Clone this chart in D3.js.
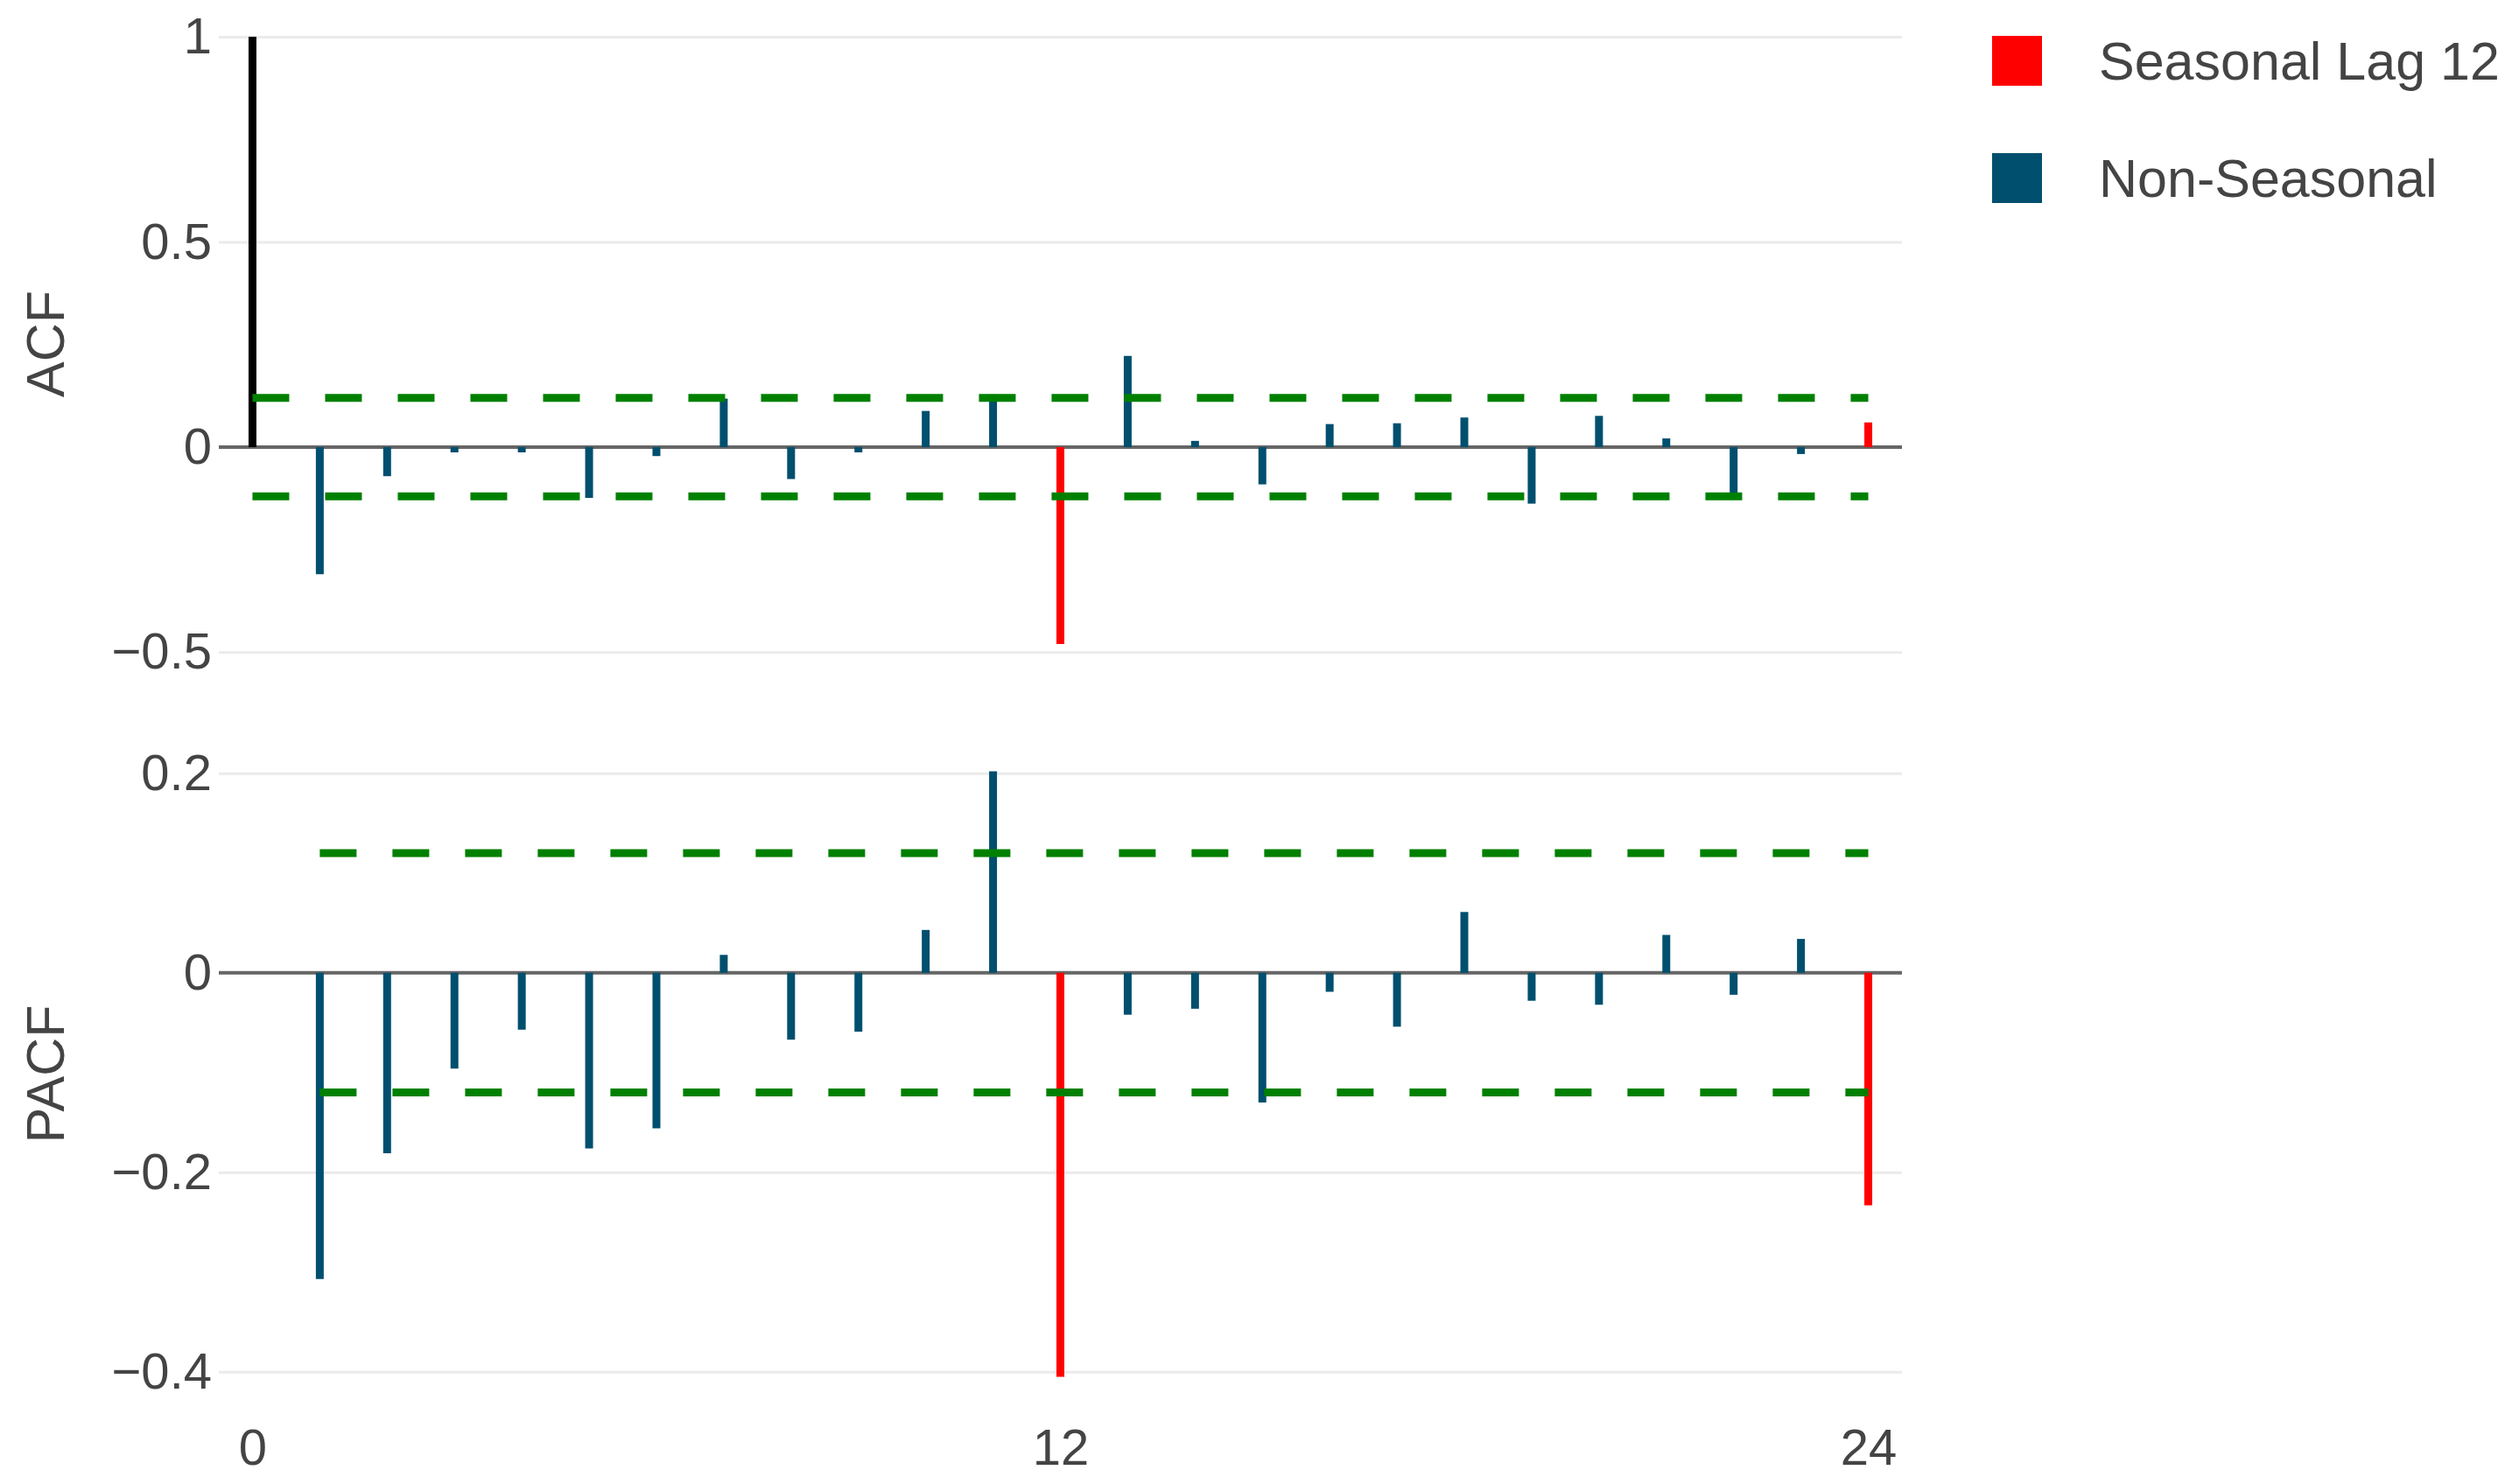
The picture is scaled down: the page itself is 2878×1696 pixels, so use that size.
<!DOCTYPE html>
<html>
<head>
<meta charset="utf-8">
<script src="https://cdn.jsdelivr.net/npm/d3@7"></script>
<style>
  body { margin: 0; background: #fff; }
  svg { font-family: 'Liberation Sans', Arial, sans-serif; }
</style>
</head>
<body>
<svg id="chart"></svg>
<script>
// data
const lags = [0, 1, 2, 3, 4, 5, 6, 7, 8, 9, 10, 11, 12, 13, 14, 15, 16, 17, 18, 19, 20, 21, 22, 23, 24];
const acfValues = [1, -0.310, -0.071, -0.013, -0.013, -0.124, -0.022, 0.118, -0.078, -0.013, 0.088, 0.128,
  -0.480, 0.222, 0.015, -0.091, 0.056, 0.058, 0.072, -0.138, 0.076, 0.021, -0.114, -0.017, 0.060];
const pacfValues = [null, -0.307, -0.181, -0.096, -0.057, -0.176, -0.156, 0.018, -0.067, -0.059, 0.043, 0.202,
  -0.405, -0.042, -0.036, -0.130, -0.019, -0.054, 0.061, -0.028, -0.032, 0.038, -0.022, 0.034, -0.233];
const seasonalLags = [12, 24];
const confBound = 0.12;
const xTicks = [0, 12, 24];
const acfTicks = [-0.5, 0, 0.5, 1];
const pacfTicks = [-0.4, -0.2, 0, 0.2];
const legendLabels = ['Seasonal Lag 12', 'Non-Seasonal'];

const width = 2878;
const height = 1696;
const plotLeft = 250;
const plotRight = 2173;
const acfPanel = {top: 36, bottom: 750};
const pacfPanel = {top: 877, bottom: 1578};

const seasonalColor = '#ff0000';
const baseColor = '#004f6e';
const textColor = '#444';

const svg = d3.select('#chart')
  .attr('width', width)
  .attr('height', height);

const xScale = d3.scaleLinear()
  .domain([-0.5, 24.5])
  .range([plotLeft, plotRight]);

const fmt = d => d < 0 ? '\u2212' + Math.abs(d) : String(d);

function drawPanel(panel, values, ticks, domain, title, firstColor) {
  const yScale = d3.scaleLinear()
    .domain(domain)
    .range([panel.bottom, panel.top]);

  // grid + tick labels
  const yAxis = d3.axisLeft(yScale)
    .tickValues(ticks)
    .tickFormat(fmt)
    .tickSize(-(plotRight - plotLeft))
    .tickPadding(8);

  const gy = svg.append('g')
    .attr('transform', `translate(${plotLeft}, 0)`)
    .call(yAxis);
  gy.select('.domain').remove();
  gy.selectAll('line').attr('stroke', '#ebebeb').attr('stroke-width', 3);
  gy.selectAll('text')
    .attr('fill', textColor)
    .style('font-size', '58px');

  // zero line
  svg.append('line')
    .attr('x1', plotLeft).attr('x2', plotRight)
    .attr('y1', yScale(0)).attr('y2', yScale(0))
    .attr('stroke', '#666')
    .attr('stroke-width', 4);

  const pts = lags.map((lag, i) => ({lag: lag, value: values[i]}))
    .filter(d => d.value !== null);

  svg.append('g')
    .selectAll('line')
    .data(pts)
    .enter()
    .append('line')
    .attr('x1', d => xScale(d.lag))
    .attr('x2', d => xScale(d.lag))
    .attr('y1', yScale(0))
    .attr('y2', d => yScale(d.value))
    .attr('stroke-width', 9)
    .attr('stroke', d => {
      if (d.lag == 0) return firstColor;
      if (seasonalLags.includes(d.lag)) return seasonalColor;
      return baseColor;
    });

  // confidence bounds
  const first = pts[0].lag;
  const last = pts[pts.length - 1].lag;
  [confBound, -confBound].forEach(b => {
    svg.append('line')
      .attr('x1', xScale(first)).attr('x2', xScale(last))
      .attr('y1', yScale(b)).attr('y2', yScale(b))
      .attr('stroke', '#008000')
      .attr('stroke-width', 9)
      .attr('stroke-dasharray', '42,41');
  });

  // axis title
  const cy = (panel.top + panel.bottom) / 2;
  svg.append('text')
    .attr('transform', `translate(51, ${cy}) rotate(-90)`)
    .attr('text-anchor', 'middle')
    .attr('dy', '0.36em')
    .attr('fill', textColor)
    .style('font-size', '61px')
    .text(title);

  return yScale;
}

drawPanel(acfPanel, acfValues, acfTicks, [-0.51, 1.013], 'ACF', '#000');
drawPanel(pacfPanel, pacfValues, pacfTicks, [-0.409, 0.206], 'PACF', baseColor);

// x axis under the lower panel
const xAxis = d3.axisBottom(xScale)
  .tickValues(xTicks)
  .tickSize(0)
  .tickPadding(55);

const gx = svg.append('g')
  .attr('transform', `translate(0, ${pacfPanel.bottom})`)
  .call(xAxis);
gx.select('.domain').remove();
gx.selectAll('text')
  .attr('fill', textColor)
  .style('font-size', '58px');

// legend
const legend = svg.append('g')
  .attr('transform', 'translate(2276, 41)');

const legendColors = [seasonalColor, baseColor];
legendLabels.forEach((label, i) => {
  const row = legend.append('g')
    .attr('transform', `translate(0, ${i * 134})`);
  row.append('rect')
    .attr('width', 57)
    .attr('height', 57)
    .attr('fill', legendColors[i]);
  row.append('text')
    .attr('x', 122)
    .attr('y', 50)
    .attr('fill', textColor)
    .style('font-size', '61px')
    .text(label);
});
</script>
</body>
</html>
